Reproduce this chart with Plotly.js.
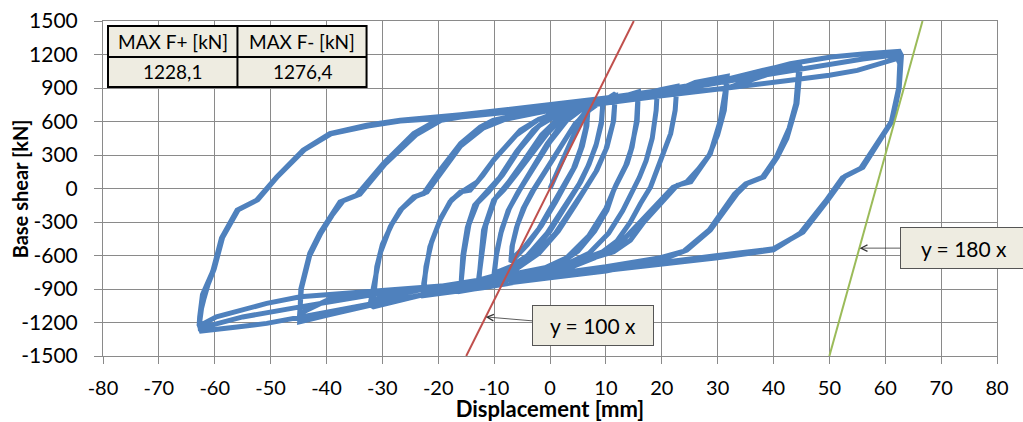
<!DOCTYPE html>
<html>
<head>
<meta charset="utf-8">
<script src="https://cdn.plot.ly/plotly-3.0.1.min.js"></script>
<style>
  html, body { margin: 0; padding: 0; background: #fff; }
  #chart { width: 1023px; height: 422px; }
</style>
</head>
<body>
<div id="chart"></div>
<script>
// ---- Data (displacement [mm], base shear [kN]) ----
const cycle07 = [[0,0],[2,230],[4,450],[5.5,600],[6.8,720],
  [6.6,560],[5.8,380],[4.5,200],[3,60],[1,-120],[-1.5,-330],[-4,-500],[-7,-660],
  [-6.8,-520],[-6,-350],[-4.8,-180],[-3.2,-30],[-1,150],[1.5,350],[4,540],[6.6,700],
  [6.4,540],[5.5,360],[4.2,180],[2.6,40],[0.5,-150],[-2,-360],[-4.5,-520],[-7,-640],
  [-6.7,-500],[-5.8,-320],[-4.5,-160],[-3,-20],[-0.5,180],[2,390],[4.5,580],[7,700]];

const cycle10 = [[8.5,760],[9.5,790],
  [9.2,600],[8.3,400],[7,220],[5.5,60],[3,-140],[0,-380],[-3,-560],[-6,-680],[-10,-780],
  [-9.6,-600],[-8.8,-400],[-7.5,-200],[-5.8,-40],[-3.5,150],[-0.5,400],[2.5,600],[5.5,720],[9.5,790],
  [9.2,580],[8.2,380],[6.8,200],[5.2,40],[2.5,-160],[-0.5,-400],[-4,-600],[-7,-700],[-10,-760],
  [-9.5,-560],[-8.6,-360],[-7.2,-170],[-5.5,-20],[-3,180],[0,420],[3,610],[6,720],[9.5,780]];

const cycle12 = [[11.7,850],
  [11.4,611],[10.2,372],[8.4,164],[6.6,14],[4.5,-150],[1.5,-380],[-2,-580],[-6,-720],[-9,-800],[-12.8,-860],
  [-12.3,-600],[-11.9,-373],[-10.1,-105],[-8.3,-15],[-6,130],[-4.1,253],[-0.5,492],[1.8,611],[5,720],[11.7,830],
  [11.3,590],[10,350],[8.2,150],[6.3,0],[4,-170],[1,-400],[-3,-610],[-7,-740],[-12.8,-820],
  [-12.2,-560],[-11.5,-330],[-9.8,-90],[-7.5,50],[-4.5,260],[-1.5,480],[2,650],[6,740],[11.5,800]];

const cycle16 = [[15.8,865],
  [15.6,700],[15.5,611],[14.7,372],[13.8,224],[12,45],[11.4,-15],[10.2,-194],[8,-380],[5,-560],[1,-700],[-4,-800],[-10,-870],[-16,-920],
  [-15.6,-600],[-14.8,-350],[-13.5,-150],[-11.5,-40],[-9,100],[-6,330],[-3,520],[0,640],[5,740],[10,800],[15.8,850],
  [15.6,600],[14.5,350],[13.5,200],[11.8,30],[10,-180],[7,-420],[3,-620],[-3,-760],[-10,-840],[-16,-890],
  [-15.4,-580],[-14.5,-320],[-13,-130],[-11,-30],[-8.5,120],[-5.5,350],[-2,560],[2,680],[8,760],[15.5,830]];

const cycle22 = [[19.8,885],[22.7,915],
  [22.4,700],[21.6,492],[19.8,253],[19.1,164],[18,14],[16.2,-134],[14.4,-300],[12,-470],[8,-620],[3,-720],[-4,-820],[-12,-890],[-16,-920],[-22.6,-960],
  [-22.6,-850],[-21.5,-522],[-19.7,-284],[-17.9,-120],[-16,-30],[-14.3,-15],[-12,120],[-10.1,253],[-5.3,522],[-2.3,611],[2,700],[10,790],[19.2,875],
  [19,700],[18.3,450],[17.2,250],[16,100],[14.8,-20],[13,-200],[10.5,-400],[7,-580],[2,-700],[-5,-800],[-12,-860],[-22.6,-920],
  [-22.2,-700],[-21.2,-480],[-19.5,-260],[-17.6,-100],[-15.5,-20],[-13,60],[-10,260],[-6,480],[-2,620],[3,700],[12,790],[22.7,880]];

const cycle32 = [[26,950],[31.7,1005],
  [31.5,909],[30.5,611],[28.7,313],[27,194],[25.2,59],[22.8,30],[19.8,-134],[16.8,-300],[14.4,-463],[11.4,-567],[5.4,-656],[0,-720],[-10,-830],[-16,-880],[-22.6,-950],[-31.6,-1059],
  [-32.2,-1040],[-30.4,-582],[-28.6,-344],[-26.8,-194],[-24.4,-75],[-22.6,-45],[-19.7,164],[-16,403],[-12.5,551],[-10.2,611],[0,720],[10,800],[19.8,880],[31.7,960],
  [31.2,700],[30,480],[28.5,300],[26.5,170],[24.5,60],[22,10],[19,-150],[16,-320],[12,-520],[6,-630],[0,-700],[-10,-800],[-22.6,-900],[-31.6,-1000],
  [-31,-700],[-30,-500],[-28.3,-320],[-26.5,-180],[-24,-70],[-22,-30],[-19,170],[-16,380],[-12,540],[-8,620],[0,700],[10,770],[20,830],[31.7,900]];

const cycle44 = [[38,1000],[43,1090],[44.5,1120],
  [44.8,1088],[44.2,760],[43,551],[42.4,450],[40.7,283],[38.3,104],[35.3,45],[33.5,-45],[28.7,-373],[24.5,-552],[19.8,-641],[10,-740],[0,-800],[-10,-860],[-16,-900],[-22.6,-950],[-31.6,-1040],[-39.4,-1130],[-44.8,-1193],
  [-44.6,-900],[-43,-581],[-41.2,-401],[-39.4,-250],[-37.6,-120],[-34.6,-60],[-29.8,224],[-24.4,492],[-19.7,626],[-16,656],[-10,690],[0,745],[10,810],[20,880],[31.7,980],[40,1080],[44.4,1110],
  [44.5,1060],[44,760],[42.8,540],[40.5,280],[38,100],[35,40],[33,-50],[28.5,-370],[24,-560],[19.8,-620],[10,-700],[0,-770],[-16,-860],[-31.6,-940],[-39.4,-990],[-44.8,-1120],
  [-44.5,-900],[-43,-600],[-41,-400],[-39,-240],[-37,-110],[-34,-50],[-29.5,220],[-24,480],[-19.5,610],[-16,640],[0,730],[20,860],[31.7,970],[43,1118]];

const cycle62 = [[50.3,1178],[56,1205],[61,1222],[62.5,1228],
  [62.9,1190],[62.8,1100],[62.5,900],[61.3,610],[59,430],[56,190],[52.8,110],[49.7,-105],[45.3,-390],[40,-540],[30,-600],[20,-660],[10,-720],[0,-790],[-10,-860],[-20,-930],[-31.6,-1030],[-44.7,-1149],[-50.7,-1208],[-56,-1240],[-62.4,-1277],
  [-62.8,-1220],[-62.5,-1100],[-61.4,-880],[-60.3,-732],[-58.8,-446],[-56,-194],[-52.5,-105],[-48.9,104],[-44.2,343],[-39.4,492],[-32.8,566],[-26.8,612],[-16,660],[0,745],[10,800],[20,860],[31.7,960],[43,1058],[50,1110],[56,1160],[62.3,1200],
  [62.7,1150],[62.5,900],[61.2,600],[58.8,420],[55.8,185],[52.5,100],[49.5,-110],[45,-395],[40,-545],[30,-610],[20,-670],[0,-780],[-16,-870],[-31.6,-950],[-44.7,-1060],[-55,-1150],[-62.6,-1250],
  [-62.7,-1200],[-62.3,-1050],[-61.2,-860],[-60.1,-720],[-58.6,-440],[-55.8,-190],[-52.3,-100],[-48.7,110],[-44,345],[-39.2,490],[-32.6,560],[-26.8,605],[-16,640],[0,720],[20,830],[31.7,900],[43,969],[50,1014],[55,1058],[62.2,1165],
  [62.6,1120],[62.4,900],[61.1,600],[58.6,410],[55.6,180],[52.3,95],[49.3,-115],[44.8,-400],[40,-550],[30,-620],[20,-680],[0,-790],[-16,-860],[-31.6,-920],[-44.7,-970],[-50.7,-1029],[-59.7,-1149],[-62.8,-1231],
  [-62.7,-1150],[-62.2,-950],[-61,-800],[-60,-700]];

// stiffness lines
const line100X = [-15, 15];
const line100Y = [-1500, 1500];
const line180X = [50, 66.67];
const line180Y = [-1500, 1500];

// table
const tableHeaders = ["MAX F+ [kN]", "MAX F- [kN]"];
const tableValues = ["1228,1", "1276,4"];

// axis ticks
const xTicks = [-80,-70,-60,-50,-40,-30,-20,-10,0,10,20,30,40,50,60,70,80];
const yTicks = [-1500,-1200,-900,-600,-300,0,300,600,900,1200,1500];

// ---- Build ----
const allCycles = [cycle07, cycle10, cycle12, cycle16, cycle22, cycle32, cycle44, cycle62];
const pts = [].concat(...allCycles);
const hx = pts.map(p => p[0]);
const hy = pts.map(p => p[1]);

const FONT = "Lato, 'Open Sans', 'Liberation Sans', sans-serif";
const GRID = "#8a8a8a";

const traces = [
  { x: hx, y: hy, type: "scatter", mode: "lines",
    line: { color: "#4f81bd", width: 5 }, hoverinfo: "skip", showlegend: false },
  { x: line100X, y: line100Y, type: "scatter", mode: "lines",
    line: { color: "#c0504d", width: 2 }, hoverinfo: "skip", showlegend: false },
  { x: line180X, y: line180Y, type: "scatter", mode: "lines",
    line: { color: "#9bbb59", width: 2 }, hoverinfo: "skip", showlegend: false }
];

// table geometry (paper coords)
const tX0 = 0.0056, tXm = 0.1504, tX1 = 0.2948;
const tY0 = 0.985, tYm = 0.8926, tY1 = 0.803;
const shapes = [
  { type: "rect", xref: "paper", yref: "paper", x0: tX0, x1: tX1, y0: tY1, y1: tY0,
    fillcolor: "#eeece1", line: { color: "#000", width: 2 }, layer: "above" },
  { type: "line", xref: "paper", yref: "paper", x0: tX0, x1: tX1, y0: tYm, y1: tYm,
    line: { color: "#000", width: 2 } },
  { type: "line", xref: "paper", yref: "paper", x0: tXm, x1: tXm, y0: tY1, y1: tY0,
    line: { color: "#000", width: 2 } }
];

const tfont = { family: FONT, size: 19, color: "#000" };
function cell(x, y, t) {
  return { xref: "paper", yref: "paper", x: x, y: y, text: t, showarrow: false,
           xanchor: "center", yanchor: "middle", font: tfont };
}
const annotations = [
  cell((tX0 + tXm) / 2, (tY0 + tYm) / 2, tableHeaders[0]),
  cell((tXm + tX1) / 2, (tY0 + tYm) / 2, tableHeaders[1]),
  cell((tX0 + tXm) / 2, (tYm + tY1) / 2, tableValues[0]),
  cell((tXm + tX1) / 2, (tYm + tY1) / 2, tableValues[1]),
  { x: -11.5, y: -1150, xref: "x", yref: "y", text: "y = 100 x", showarrow: true,
    ax: 107, ay: 9, arrowhead: 5, arrowsize: 1.6, arrowwidth: 0.8, arrowcolor: "#333",
    bgcolor: "#eeece1", bordercolor: "#555", borderwidth: 1, width: 118, height: 37,
    font: { family: FONT, size: 21, color: "#000" } },
  { x: 55.4, y: -534, xref: "x", yref: "y", text: "y = 180 x", showarrow: true,
    ax: 104, ay: 0, arrowhead: 5, arrowsize: 1.6, arrowwidth: 0.8, arrowcolor: "#333",
    bgcolor: "#eeece1", bordercolor: "#555", borderwidth: 1, width: 124, height: 38,
    font: { family: FONT, size: 21, color: "#000" } },
  // y-axis title placed to match the reference position
  { xref: "paper", yref: "paper", x: -0.093, y: 0.5, text: "<b>Base shear [kN]</b>",
    textangle: -90, showarrow: false, xanchor: "center", yanchor: "middle",
    font: { family: FONT, size: 20, color: "#000" } }
];

const layout = {
  width: 1023, height: 422,
  margin: { l: 103, r: 26, t: 21, b: 66 },
  paper_bgcolor: "#fff", plot_bgcolor: "#fff",
  showlegend: false,
  font: { family: FONT, size: 20, color: "#000" },
  xaxis: {
    range: [-80, 80], tickvals: xTicks, ticktext: xTicks.map(String),
    showgrid: true, gridcolor: GRID, gridwidth: 1, zeroline: false,
    showline: true, linecolor: GRID, linewidth: 1, mirror: true,
    ticks: "outside", ticklen: 7, tickcolor: GRID, tickwidth: 1,
    ticklabelstandoff: 7,
    tickfont: { family: FONT, size: 20, color: "#000" },
    title: { text: "<b>Displacement [mm]</b>", standoff: 3,
             font: { family: FONT, size: 22, color: "#000" } },
    fixedrange: true
  },
  yaxis: {
    range: [-1500, 1500], tickvals: yTicks, ticktext: yTicks.map(String),
    showgrid: true, gridcolor: GRID, gridwidth: 1, zeroline: false,
    showline: true, linecolor: GRID, linewidth: 1, mirror: true,
    ticks: "outside", ticklen: 8, tickcolor: GRID, tickwidth: 1,
    ticklabelstandoff: 12,
    tickfont: { family: FONT, size: 21, color: "#000" },
    fixedrange: true
  },
  shapes: shapes,
  annotations: annotations
};

Plotly.newPlot("chart", traces, layout, { staticPlot: true, displayModeBar: false });
</script>
</body>
</html>
